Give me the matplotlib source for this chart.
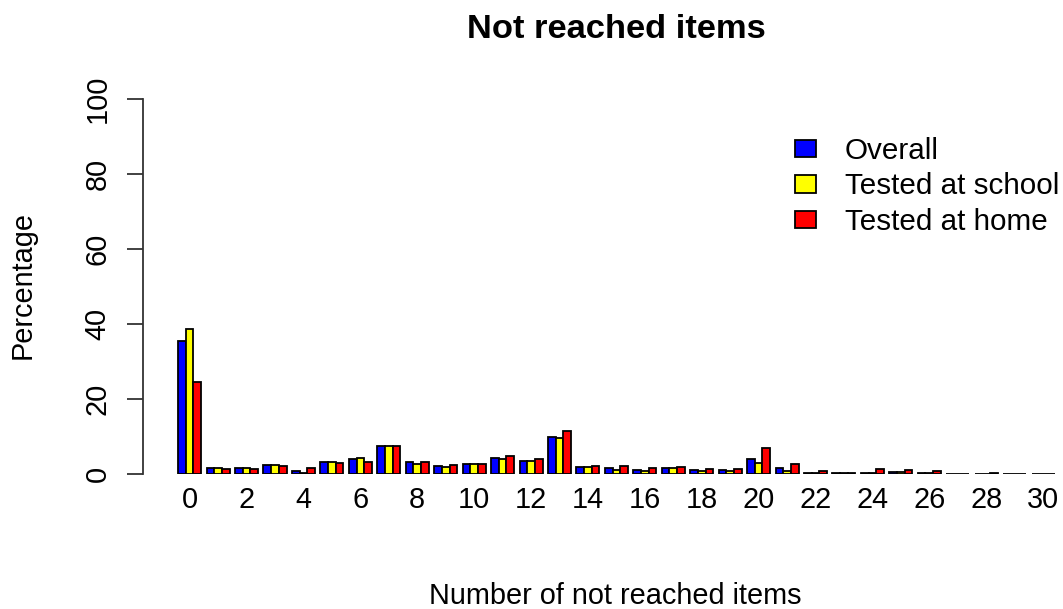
import numpy as np
import matplotlib.pyplot as plt
from matplotlib.patches import Patch

plt.rcParams['font.family'] = ['Liberation Sans', 'DejaVu Sans']

# number of not reached items
items = np.arange(0, 31)
overall = [35.5, 1.7, 1.5, 2.4, 0.7, 3.1, 4.0, 7.6, 3.1, 2.2, 2.7, 4.3, 3.6, 10.0, 1.8, 1.5,
           1.1, 1.5, 1.1, 1.1, 4.0, 1.5, 0.4, 0.3, 0.3, 0.5, 0.4, 0.1, 0.1, 0.1, 0.1]
school = [38.6, 1.7, 1.7, 2.4, 0.3, 3.1, 4.3, 7.5, 2.8, 2.0, 2.7, 3.9, 3.5, 9.5, 1.8, 1.1,
          0.9, 1.5, 0.9, 0.7, 2.9, 0.9, 0.4, 0.3, 0.3, 0.5, 0.3, 0.1, 0.1, 0.1, 0.0]
home = [24.6, 1.3, 1.3, 2.2, 1.5, 3.0, 3.2, 7.4, 3.3, 2.4, 2.7, 4.8, 4.0, 11.6, 2.2, 2.2,
        1.5, 2.0, 1.3, 1.4, 6.9, 2.8, 0.8, 0.3, 1.3, 1.0, 0.8, 0.1, 0.3, 0.1, 0.1]
tick_labels = [str(v) for v in range(0, 31, 2)]

fig = plt.figure(figsize=(10.63, 6.09), dpi=100)
ax = fig.add_axes([143 / 1063, 135 / 609, 920 / 1063, 375 / 609])

w = 0.27
ax.bar(items - w, overall, w, color='blue', edgecolor='black', linewidth=1.3)
ax.bar(items, school, w, color='yellow', edgecolor='black', linewidth=1.3)
ax.bar(items + w, home, w, color='red', edgecolor='black', linewidth=1.3)

ax.set_xlim(-1.64, 30.7)
ax.set_ylim(0, 100)

for s in ['top', 'right', 'bottom']:
    ax.spines[s].set_visible(False)
ax.spines['left'].set_bounds(0, 100)
ax.spines['left'].set_linewidth(1.3)
ax.spines['left'].set_color('#333333')

ax.set_yticks([0, 20, 40, 60, 80, 100])
ax.set_yticklabels(['0', '20', '40', '60', '80', '100'], rotation=90, va='center', fontsize=20.8)
ax.tick_params(axis='y', length=11.5, width=1.3, pad=11, color='#333333')
ax.set_xticks(range(0, 31, 2))
ax.set_xticklabels(tick_labels, fontsize=20.8)
ax.tick_params(axis='x', length=0, pad=9)

fig.text(616 / 1063, 1 - 30 / 609, 'Not reached items', fontsize=24.8, fontweight='bold',
         ha='center', va='center')
fig.text(615 / 1063, 1 - 596 / 609, 'Number of not reached items', fontsize=20.8,
         ha='center', va='center')
fig.text(23 / 1063, 1 - 285 / 609, 'Percentage', fontsize=20.8, rotation=90,
         ha='center', va='center')

handles = [Patch(facecolor='blue', edgecolor='black', linewidth=1.3),
           Patch(facecolor='yellow', edgecolor='black', linewidth=1.3),
           Patch(facecolor='red', edgecolor='black', linewidth=1.3)]
fig.legend(handles, ['Overall', 'Tested at school', 'Tested at home'],
           loc='upper left', bbox_to_anchor=(795 / 1063, 1 - 137 / 609), frameon=False, fontsize=21.3,
           handlelength=0.71, handleheight=0.54, handletextpad=0.98, labelspacing=0.25,
           borderpad=0, borderaxespad=0)

fig.savefig('out.png', dpi=100)
